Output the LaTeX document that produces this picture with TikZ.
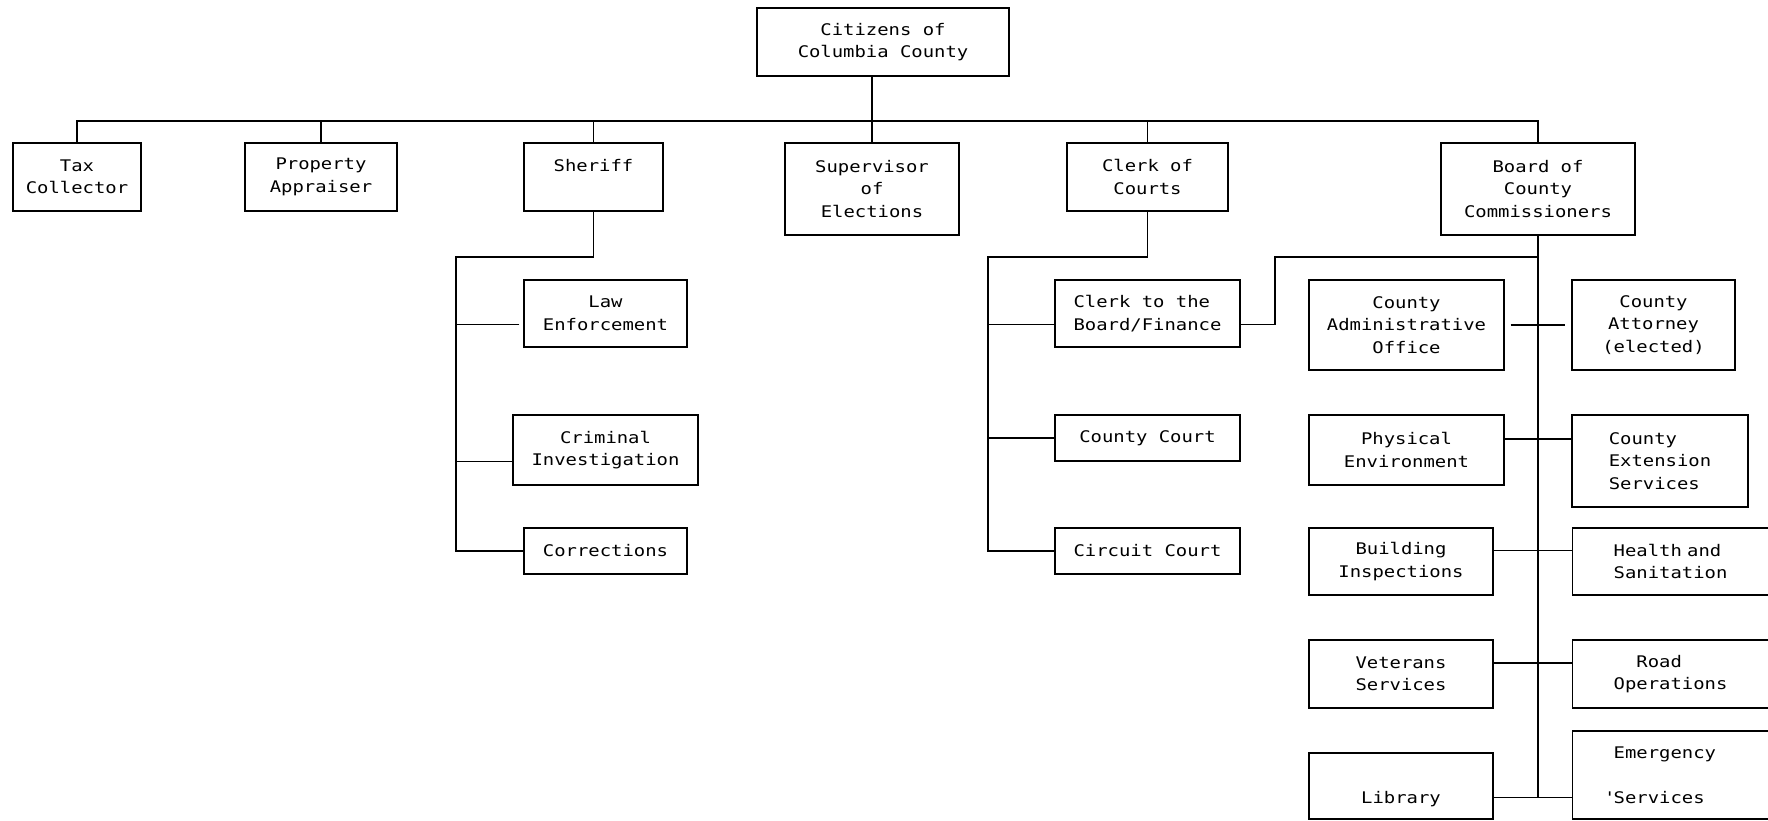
\documentclass[tikz,border=0pt]{standalone}
\usepackage{fontspec}
\newfontfamily\chartfont[FakeStretch=1.18]{DejaVu Sans Mono}
\usetikzlibrary{calc}

\tikzset{
  unit/.style={draw,line width=0.7pt,align=center,inner sep=0pt,
    font=\chartfont\fontsize{8}{11.25}\selectfont},
  wh/.style 2 args={minimum width=#1*0.5pt,minimum height=#2*0.5pt},
  cutbox/.style={unit,anchor=west,align=left,inner xsep=20.5pt,text width=75pt}
}

\begin{document}
\begin{tikzpicture}[x=0.5pt,y=-0.5pt,line width=0.7pt]
  \useasboundingbox (0,0) rectangle (1768,820);
  \clip (0,0) rectangle (1768,820);
  \node[unit,wh={252}{68}] (citizens) at (883,42) {Citizens of\\Columbia County};
  \node[unit,wh={128}{68}] (tax) at (77,177) {Tax\\Collector};
  \node[unit,wh={152}{68}] (prop) at (321,177) {Property\\Appraiser};
  \node[unit,wh={139}{68}] (sheriff) at (593.5,177) {Sheriff\\\mbox{}};
  \node[unit,wh={174}{92}] (superv) at (872,189) {Supervisor\\of\\Elections};
  \node[unit,wh={161}{68}] (clerk) at (1147.5,177) {Clerk of\\Courts};
  \node[unit,wh={194}{92}] (board) at (1538,189) {Board of\\County\\Commissioners};

  \node[unit,wh={163}{67}] (law) at (605.5,313.5) {Law\\Enforcement};
  \node[unit,wh={185}{70}] (crim) at (605.5,450) {Criminal\\Investigation};
  \node[unit,wh={163}{46}] (corr) at (605.5,551) {Corrections};

  \node[unit,wh={185}{67},align=left] (ctb) at (1147.5,313.5) {Clerk to the\\Board/Finance};
  \node[unit,wh={185}{46}] (cc) at (1147.5,438) {County Court};
  \node[unit,wh={185}{46}] (circ) at (1147.5,551) {Circuit Court};

  \node[unit,wh={195}{90}] (cao) at (1406.5,325) {County\\Administrative\\Office};
  \node[unit,wh={163}{90}] (atty) at (1653.5,325) {County\\Attorney\\(elected)};
  \node[unit,wh={195}{70}] (phys) at (1406.5,450) {Physical\\Environment};
  \node[unit,wh={176}{92},align=left] (ext) at (1660,461) {County\\Extension\\Services};
  \node[unit,wh={184}{67}] (build) at (1401,561.5) {Building\\Inspections};
  \node[cutbox,minimum height=33.5pt] (health) at (1572,561.5) {Health and\\Sanitation};
  \node[unit,wh={184}{68}] (vet) at (1401,674) {Veterans\\Services};
  \node[cutbox,minimum height=34pt] (road) at (1572,674) {\phantom{Op}Road\\Operations};
  \node[unit,wh={184}{66}] (lib) at (1401,786) {\strut\\Library};
  \node[cutbox,minimum height=44pt] (emerg) at (1572,775) {Emergency\\\strut\\\mbox{\llap{\textquotesingle}Services}};

  \coordinate (bus) at (0,121);
  \draw (tax.north) |- (board.north |- bus) -- (board.north);
  \foreach \n in {prop,sheriff,clerk}
    \draw (\n.north) -- (\n.north |- bus);
  \draw (citizens.south -| superv.north) -- (superv.north);

  \coordinate (shspine) at (456,257);
  \draw (sheriff.south) |- (shspine) |- (corr.west);
  \draw[shorten <=2pt] ([yshift=-5.6pt]law.west) -- ([yshift=-5.6pt]law.west -| shspine);
  \draw ([yshift=-5.6pt]crim.west) -- ([yshift=-5.6pt]crim.west -| shspine);

  \coordinate (clspine) at (988,257);
  \draw (clerk.south) |- (clspine) |- (circ.west);
  \draw ([yshift=-5.6pt]ctb.west) -- ([yshift=-5.6pt]ctb.west -| clspine);
  \draw (cc.west) -- (cc.west -| clspine);

  \coordinate (ctbjog) at (1275,257);
  \draw ([yshift=-5.6pt]ctb.east) -| (ctbjog) -- (ctbjog -| board.south);
  \draw (board.south) -- ([yshift=-5.6pt]lib.east -| board.south);
  \draw[shorten <=3pt,shorten >=3pt] (cao.east) -- (cao.east -| atty.west);
  \draw ([yshift=5.6pt]phys.east) -- ([yshift=5.6pt]phys.east -| ext.west);
  \draw ([yshift=5.6pt]build.east) -- ([yshift=5.6pt]build.east -| health.west);
  \draw ([yshift=5.6pt]vet.east) -- ([yshift=5.6pt]vet.east -| road.west);
  \draw ([yshift=-5.6pt]lib.east) -- ([yshift=-5.6pt]lib.east -| emerg.west);
\end{tikzpicture}
\end{document}
